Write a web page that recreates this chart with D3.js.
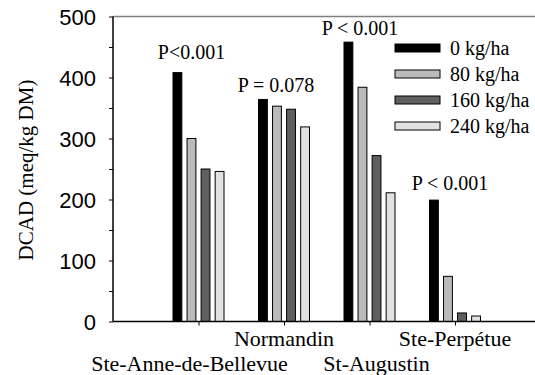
<!DOCTYPE html>
<html>
<head>
<meta charset="utf-8">
<script src="https://cdn.jsdelivr.net/npm/d3@7"></script>
<style>
  body { margin: 0; background: #fff; }
  svg text { fill: #000; }
  .serif { font-family: "Liberation Serif", "Times New Roman", Times, "DejaVu Serif", serif; }
  .sans { font-family: "Liberation Sans", Arial, Helvetica, sans-serif; }
</style>
</head>
<body>
<div id="chart"></div>
<script>
const sites = ['Ste-Anne-de-Bellevue', 'Normandin', 'St-Augustin', 'Ste-Perpétue'];
const rates = ['0 kg/ha', '80 kg/ha', '160 kg/ha', '240 kg/ha'];
const rateColors = ['#000000', '#bbbbbb', '#5f5f5f', '#e2e2e2'];
const dcad0 = [408, 364, 458, 199];
const dcad80 = [300, 353, 384, 74];
const dcad160 = [250, 348, 272, 14];
const dcad240 = [246, 319, 211, 9];
const pLabels = ['P<0.001', 'P = 0.078', 'P < 0.001', 'P < 0.001'];
const yTicks = [0, 100, 200, 300, 400, 500];

const seriesValues = [dcad0, dcad80, dcad160, dcad240];

const width = 535, height = 375;
const svg = d3.select('#chart').append('svg')
  .attr('width', width)
  .attr('height', height);

const x = d3.scaleLinear().domain([0, 5]).range([113, 540.5]);
const y = d3.scaleLinear().domain([0, 500]).range([321.5, 16.5]);
const inner = d3.scaleBand().domain(rates).range([-25.5, 25.5]).paddingInner(0.37);

// bars
seriesValues.forEach((vals, si) => {
  svg.append('g')
    .selectAll('rect')
    .data(vals)
    .join('rect')
    .attr('x', (d, i) => x(i + 1) + inner(rates[si]))
    .attr('y', d => y(d))
    .attr('width', inner.bandwidth())
    .attr('height', d => y(0) - y(d))
    .attr('fill', rateColors[si])
    .attr('stroke', '#000')
    .attr('stroke-width', 1);
});

// top border
svg.append('line')
  .attr('x1', x(0)).attr('x2', width)
  .attr('y1', y(500)).attr('y2', y(500))
  .attr('stroke', '#808080').attr('stroke-width', 1.5);

// y axis
const yAxis = svg.append('g')
  .attr('transform', `translate(${x(0)},0)`)
  .call(d3.axisLeft(y).tickValues(d3.range(0, 501, 50)).tickSize(4).tickPadding(13)
    .tickFormat(d => yTicks.includes(d) ? d : ''));
yAxis.attr('font-family', null).attr('font-size', null);
yAxis.select('.domain').attr('stroke', '#000').attr('stroke-width', 1.5).attr('d', `M0,${y(0)}V${y(500)}`);
yAxis.selectAll('.tick line').attr('stroke', '#000');
yAxis.selectAll('.tick text')
  .attr('class', 'sans')
  .style('font-size', '22px')
  .attr('dy', '0.35em');

// x axis
const xAxis = svg.append('g')
  .attr('transform', `translate(0,${y(0)})`)
  .call(d3.axisBottom(x).tickValues([1, 2, 3, 4]).tickSize(4).tickFormat(''));
xAxis.select('.domain').attr('stroke', '#000').attr('stroke-width', 1.5).attr('d', `M${x(0)},0H${width}`);
xAxis.selectAll('.tick line').attr('stroke', '#000');

// category labels, staggered in two rows
svg.append('g')
  .selectAll('text')
  .data(sites)
  .join('text')
  .attr('class', 'serif')
  .attr('x', (d, i) => x(i + 1) + (i === 0 ? -9 : i === 2 ? 7 : 0))
  .attr('y', (d, i) => i % 2 === 0 ? 371 : 346)
  .attr('text-anchor', 'middle')
  .style('font-size', '22px')
  .text(d => d);

// significance labels above each group (nudged like the original)
const pDx = [-7, -8, -9.5, -5];
const pDy = [14, 7, 7, 10];
svg.append('g')
  .selectAll('text')
  .data(pLabels)
  .join('text')
  .attr('class', 'serif')
  .attr('x', (d, i) => x(i + 1) + pDx[i])
  .attr('y', (d, i) => y(d3.max(seriesValues, s => s[i])) - pDy[i])
  .attr('text-anchor', 'middle')
  .style('font-size', '20px')
  .text(d => d);

// y title
svg.append('text')
  .attr('class', 'serif')
  .attr('transform', `translate(33,170) rotate(-90)`)
  .attr('text-anchor', 'middle')
  .style('font-size', '21px')
  .text('DCAD (meq/kg DM)');

// legend
const legend = svg.append('g').attr('transform', 'translate(395,48)');
rates.forEach((r, i) => {
  const row = legend.append('g').attr('transform', `translate(0,${i * 26})`);
  row.append('rect')
    .attr('x', 0).attr('y', -4)
    .attr('width', 45).attr('height', 8)
    .attr('fill', rateColors[i])
    .attr('stroke', '#000').attr('stroke-width', 1);
  row.append('text')
    .attr('class', 'serif')
    .attr('x', 55).attr('y', 0).attr('dy', '0.35em')
    .style('font-size', '20px')
    .text(r);
});
</script>
</body>
</html>
